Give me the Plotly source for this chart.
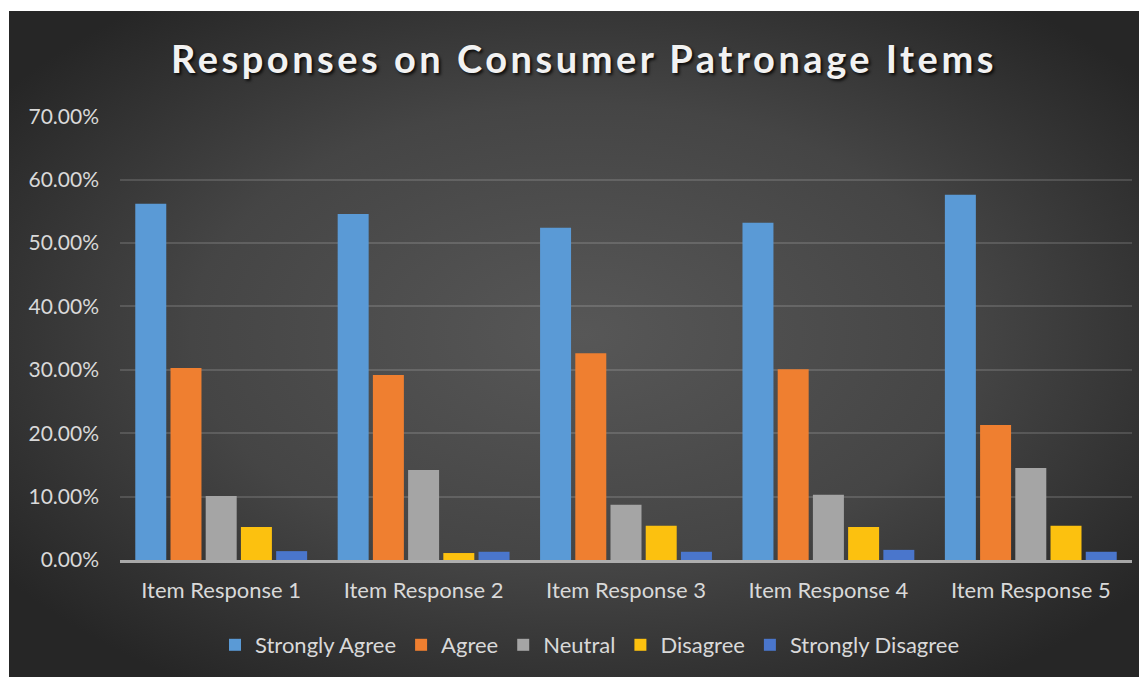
import base64
import plotly.graph_objects as go

categories = ["Item Response 1", "Item Response 2", "Item Response 3", "Item Response 4", "Item Response 5"]
series_names = ["Strongly Agree", "Agree", "Neutral", "Disagree", "Strongly Disagree"]
strongly_agree = [0.562, 0.546, 0.524, 0.532, 0.576]
agree = [0.303, 0.292, 0.326, 0.301, 0.213]
neutral = [0.101, 0.142, 0.087, 0.103, 0.145]
disagree = [0.052, 0.011, 0.054, 0.052, 0.054]
strongly_disagree = [0.014, 0.013, 0.013, 0.016, 0.013]
tick_vals = [0, 0.1, 0.2, 0.3, 0.4, 0.5, 0.6, 0.7]
tick_text = ["0.00%", "10.00%", "20.00%", "30.00%", "40.00%", "50.00%", "60.00%", "70.00%"]

series_values = [strongly_agree, agree, neutral, disagree, strongly_disagree]
colors = ["#5a9ad6", "#ef7f30", "#a5a5a5", "#fcc10f", "#4a76cc"]

W, H = 1147, 677
L, R, T, B = 112, 23, 108, 125
pw, ph = W - L - R, H - T - B

BX, BY = 1, 3  # top-left of dark chart area within the figure
bw, bh = W - BX, H - BY
svg = (
    f'<svg xmlns="http://www.w3.org/2000/svg" width="{bw}" height="{bh}" viewBox="0 0 {bw} {bh}" preserveAspectRatio="none">'
    '<defs><radialGradient id="g" cx="50%" cy="48%" r="62%">'
    '<stop offset="0%" stop-color="#575757"/><stop offset="55%" stop-color="#454545"/>'
    '<stop offset="100%" stop-color="#262626"/></radialGradient></defs>'
    f'<rect x="0" y="0" width="{bw}" height="{bh}" fill="url(#g)"/></svg>'
)
bg_src = "data:image/svg+xml;base64," + base64.b64encode(svg.encode()).decode()

fig = go.Figure()
for name, vals, col in zip(series_names, series_values, colors):
    fig.add_trace(go.Bar(name=name, x=categories, y=vals, marker=dict(color=col, line=dict(width=0))))

fig.add_layout_image(dict(
    source=bg_src, xref="paper", yref="paper",
    x=(BX - L) / pw, y=(H - B - BY) / ph,
    sizex=bw / pw, sizey=bh / ph, sizing="stretch",
    xanchor="left", yanchor="top", layer="below",
))

font_family = "Lato, 'Open Sans', sans-serif"
fig.update_layout(
    width=W, height=H,
    margin=dict(l=L, r=R, t=T, b=B),
    paper_bgcolor="white",
    plot_bgcolor="rgba(0,0,0,0)",
    barmode="group",
    bargap=0.13,
    bargroupgap=0.12,
    font=dict(family=font_family, color="#d9d9d9", size=20),
    title=dict(
        text='<span style="letter-spacing:3.5px">Responses on Consumer Patronage Items</span>',
        x=(584 - 8) / W, xref="container", xanchor="center",
        y=1 - 52 / H, yref="container", yanchor="middle",
        font=dict(family=font_family, size=38, color="#f2f2f2", weight="bold",
                  shadow="2px 2px 3px rgba(0,0,0,0.8)"),
    ),
    xaxis=dict(
        showgrid=False, showline=True, linecolor="rgba(210,210,210,0.75)", linewidth=3,
        ticks="", ticklabelstandoff=9, tickfont=dict(size=22, color="#d9d9d9"),
    ),
    yaxis=dict(
        range=[0, 0.7004], tickvals=tick_vals, ticktext=tick_text,
        showgrid=True, gridcolor="rgba(255,255,255,0.14)", gridwidth=2,
        zeroline=False, showline=False, ticks="", ticklabelstandoff=20,
        tickfont=dict(size=21, color="#d9d9d9"),
    ),
    legend=dict(
        orientation="h", x=(582 - L) / pw, xanchor="center",
        y=-(637 - (H - B)) / ph, yanchor="middle",
        font=dict(size=22, color="#d9d9d9"), bgcolor="rgba(0,0,0,0)",
        itemwidth=30, traceorder="normal",
    ),
    showlegend=True,
)

fig.write_html("out.html")
